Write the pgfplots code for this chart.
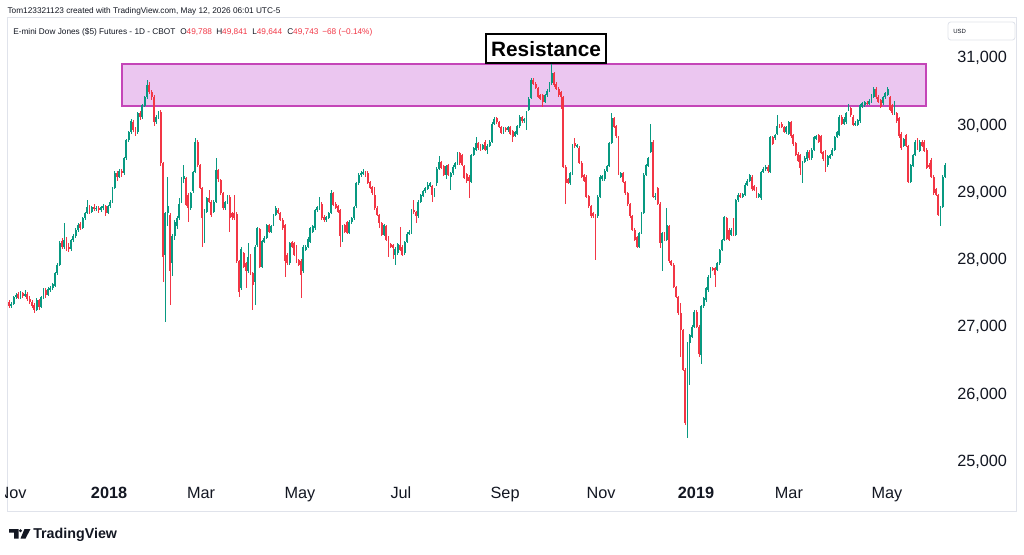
\documentclass[border=0pt]{standalone}
\usepackage{fontspec}
\setmainfont{Liberation Sans}
\usepackage{pgfplots}
\usepackage{pgfplotstable}
\pgfplotsset{compat=1.18}
\definecolor{tvgreen}{HTML}{089981}
\definecolor{tvred}{HTML}{F23645}
\definecolor{tvtext}{HTML}{131722}
\definecolor{tvframe}{HTML}{E0E3EB}
\definecolor{pinkfill}{HTML}{EBC6F0}
\definecolor{pinkedge}{HTML}{C445B8}
\pgfplotstableread{
o h l c
27380 27400 27290 27310
27310 27370 27280 27350
27350 27460 27330 27450
27450 27510 27420 27480
27490 27520 27420 27440
27440 27540 27420 27510
27510 27530 27440 27470
27470 27550 27450 27500
27500 27520 27390 27420
27420 27460 27350 27380
27380 27410 27290 27320
27330 27360 27210 27260
27260 27430 27240 27400
27400 27420 27260 27300
27300 27470 27280 27450
27440 27580 27420 27560
27560 27590 27440 27480
27480 27600 27460 27570
27560 27620 27530 27590
27580 27660 27550 27640
27620 27820 27600 27800
27800 27950 27780 27930
27930 28280 27910 28250
28280 28330 28170 28200
28200 28550 28160 28300
28300 28340 28130 28180
28200 28250 28120 28160
28160 28320 28140 28300
28300 28380 28270 28350
28350 28470 28330 28450
28450 28550 28420 28520
28530 28560 28440 28480
28480 28640 28460 28620
28620 28720 28590 28700
28700 28890 28680 28790
28790 28820 28690 28720
28720 28810 28700 28790
28790 28830 28730 28760
28760 28810 28730 28780
28780 28800 28700 28740
28740 28810 28710 28790
28780 28830 28750 28800
28800 28820 28650 28700
28700 28820 28680 28800
28800 28890 28780 28870
28870 29080 28850 29060
29070 29320 29050 29300
29300 29330 29170 29240
29240 29350 29220 29330
29320 29360 29240 29290
29290 29530 29270 29510
29510 29800 29490 29780
29780 29920 29760 29900
29900 30090 29880 30060
30050 30080 29910 29930
29950 29980 29850 29900
29900 30200 29880 30180
30180 30220 30080 30120
30120 30320 30100 30300
30290 30440 30270 30420
30420 30680 30400 30600
30600 30640 30470 30500
30500 30530 30380 30420
30420 30450 30000 30050
30050 30150 30020 30130
30120 30210 30090 30190
30200 30230 29400 29440
29440 29460 27680 28050
28080 28720 27080 28700
28700 29240 28500 28800
28670 28700 27330 27830
27950 28380 27760 28350
28350 28600 28300 28570
28500 28660 28460 28620
28620 28920 28600 28840
28870 29240 28850 29215
29200 29410 29150 29250
29215 29240 28800 28820
28970 29000 28570 28770
28770 29010 28750 28990
29020 29330 29000 29310
29310 29810 29290 29760
29760 29780 29380 29410
29410 29430 29050 29070
29070 29090 28200 28620
28620 28760 28250 28720
28720 28940 28700 28920
28920 29040 28850 28870
28870 28890 28640 28670
28720 28890 28700 28870
28870 29510 28850 29340
29340 29360 29160 29200
29190 29210 28970 28990
28990 29010 28750 28770
28770 28880 28740 28860
28860 28960 28840 28940
28940 28960 28420 28620
28700 28720 28600 28640
28700 28960 28600 28620
28690 28710 27960 27980
27980 28000 27450 27530
27580 28190 27560 28170
28100 28120 27880 27900
27950 27970 27580 27830
27830 28250 27810 28050
28075 28090 27780 27800
27800 27820 27260 27630
27680 28220 27330 28200
28220 28490 28200 28470
28460 28480 27880 27900
27900 28300 27880 28280
28270 28350 28250 28330
28330 28540 28310 28520
28520 28540 28400 28420
28420 28520 28400 28500
28520 28690 28500 28670
28670 28800 28650 28770
28750 28770 28680 28700
28700 28720 28580 28600
28600 28620 28450 28470
28520 28540 27750 27980
28080 28100 27930 27950
27950 28270 27930 28250
28270 28290 28180 28200
28250 28270 28060 28080
28200 28220 27960 27980
28000 28020 27910 27930
27990 28010 27430 27780
27830 28220 27810 28200
28150 28220 28130 28200
28200 28340 28180 28320
28270 28490 28250 28470
28420 28520 28400 28500
28470 28760 28450 28740
28740 28810 28720 28790
28770 28940 28750 28840
28840 28860 28600 28620
28640 28670 28570 28590
28600 28660 28570 28640
28630 28720 28610 28700
28700 29040 28680 28990
28990 29010 28800 28820
28840 28860 28760 28780
28800 28820 28700 28720
28740 28760 28200 28350
28350 28520 28270 28500
28520 28540 28400 28420
28560 28580 28380 28400
28400 28590 28380 28570
28560 28640 28540 28620
28620 28810 28600 28790
28800 29160 28780 29140
29140 29290 29120 29270
29260 29330 29240 29300
29290 29360 29270 29310
29310 29330 29230 29250
29300 29320 29130 29150
29160 29180 29050 29070
29080 29100 28970 28990
28970 29090 28750 28770
28780 28800 28650 28670
28670 28690 28470 28550
28550 28570 28350 28370
28370 28540 28350 28520
28500 28520 28280 28300
28330 28350 28050 28230
28240 28260 28180 28200
28220 28240 28020 28180
28080 28190 27930 28170
28100 28260 28080 28240
28230 28490 28130 28150
28200 28220 28060 28080
28100 28290 28080 28270
28270 28410 28250 28390
28390 28440 28370 28420
28400 28760 28380 28740
28740 28890 28690 28710
28710 28730 28545 28650
28650 28890 28630 28870
28870 28980 28850 28960
28950 29040 28930 29020
29020 29090 29000 29070
29060 29160 29040 29110
29100 29160 29080 29140
29100 29120 28870 28970
28960 29070 28940 29050
29140 29380 29100 29360
29360 29540 29340 29460
29460 29480 29350 29370
29400 29420 29250 29270
29270 29420 29210 29400
29410 29430 29250 29270
29240 29310 29040 29290
29290 29410 29270 29390
29380 29460 29360 29440
29440 29610 29420 29590
29590 29610 29420 29440
29560 29580 29400 29420
29400 29420 29200 29220
29280 29300 29150 29170
29240 29260 28920 29170
29160 29580 29140 29560
29560 29680 29540 29660
29640 29830 29620 29740
29740 29760 29640 29660
29700 29720 29620 29640
29650 29730 29630 29710
29760 29780 29620 29640
29640 29720 29580 29700
29700 29780 29680 29760
29760 30050 29740 30030
30030 30120 30010 30100
30110 30130 30030 30050
30050 30070 29960 29980
29980 30000 29870 29890
29890 29980 29870 29960
29960 29980 29910 29930
29930 30000 29910 29980
29980 30000 29860 29880
29920 29940 29760 29830
29850 29920 29830 29900
29880 30010 29860 29990
29990 30150 29970 30130
30120 30140 30040 30060
30060 30110 30040 30090
30040 30220 29930 30200
30230 30420 30210 30400
30410 30700 30390 30680
30680 30700 30600 30620
30620 30640 30540 30560
30560 30580 30410 30430
30450 30470 30380 30400
30450 30470 30280 30350
30350 30470 30330 30450
30450 30540 30430 30520
30520 30650 30500 30630
30630 30930 30610 30780
30780 30800 30580 30600
30620 30640 30530 30550
30550 30570 30430 30450
30500 30520 30250 30420
30420 30440 29370 29390
29390 29410 28840 29140
29200 29220 29130 29150
29140 29310 29120 29290
29290 29730 29270 29710
29740 29810 29670 29690
29680 29730 29660 29710
29670 29690 29430 29450
29450 29470 29220 29240
29260 29280 29160 29180
29240 29260 28920 28940
28950 28970 28780 28800
28800 28820 28630 28650
28700 28720 28630 28650
28670 28690 28000 28300
28650 28960 28630 28940
28940 29260 28920 29240
29200 29270 29180 29250
29200 29350 29180 29330
29330 29420 29310 29400
29400 29760 29380 29740
29740 30180 29720 30110
30110 30130 29960 29980
29990 30010 29820 29840
29830 29850 29270 29290
29240 29310 29220 29290
29290 29310 29140 29160
29160 29180 28970 28990
28990 29010 28810 28830
28830 28850 28630 28650
28650 28670 28430 28450
28450 28470 28280 28300
28340 28360 28180 28200
28200 28420 28180 28400
28400 28720 28380 28700
28700 29290 28680 29270
29270 29430 29250 29410
29400 29530 29380 29510
29610 30030 29590 29760
29760 29780 28920 28940
28940 28990 28900 28950
29070 29090 28820 28840
28840 28860 28175 28250
28250 28420 27830 28400
28400 28420 28280 28300
28300 28770 28280 28520
28500 28520 27960 27980
27980 28000 27910 27930
27930 27950 27580 27600
27600 27620 27430 27450
27450 27470 27190 27210
27210 27360 26560 26960
26960 26980 26350 26370
26370 26390 25550 25570
25620 26780 25350 26760
26760 26900 26140 26880
26860 27030 26840 27010
27010 27250 26990 27230
27230 27250 26990 27010
27010 27030 26560 26610
26590 27330 26460 27310
27310 27450 27290 27430
27400 27600 27380 27580
27550 27770 27530 27750
27750 27900 27730 27880
27880 27900 27830 27850
27880 27900 27600 27780
27850 27970 27830 27950
27950 28170 27930 28150
28150 28320 28130 28300
28300 28660 28280 28640
28620 28640 28300 28320
28450 28470 28280 28300
28370 28470 28350 28450
28600 28620 28350 28370
28370 28910 28350 28890
28890 28990 28870 28970
28970 28990 28920 28940
28940 29000 28920 28980
28970 29140 28950 29120
29120 29200 29100 29180
29180 29280 29160 29260
29240 29260 29030 29050
29100 29120 29020 29040
29060 29080 28920 28940
28940 29000 28920 28980
28920 29330 28900 29310
29310 29380 29290 29360
29350 29410 29330 29390
29390 29410 29300 29320
29310 29850 29290 29830
29830 29850 29710 29730
29810 29880 29790 29860
29880 30160 29860 30000
30000 30030 29970 29990
30030 30050 29960 29980
29980 30000 29890 29910
29900 30000 29880 29980
29880 30070 29860 30050
30050 30070 29820 29840
29860 29880 29700 29720
29740 29760 29540 29560
29580 29600 29460 29480
29560 29580 29270 29370
29370 29480 29140 29460
29460 29540 29440 29520
29500 29630 29480 29610
29610 29630 29490 29510
29510 29660 29490 29640
29640 29850 29620 29830
29800 29860 29780 29840
29860 29880 29740 29760
29840 29860 29570 29590
29600 29620 29480 29500
29610 29630 29310 29410
29410 29560 29390 29540
29520 29580 29500 29560
29560 29660 29540 29640
29640 29850 29620 29830
29830 29920 29810 29900
29860 30150 29840 30130
30130 30150 30010 30030
30030 30120 30010 30100
30050 30200 30030 30180
30230 30320 30210 30300
30260 30280 30130 30150
30130 30150 29990 30010
30010 30060 29990 30040
30010 30100 29990 30080
30060 30320 30040 30300
30280 30350 30260 30330
30300 30370 30280 30350
30340 30360 30300 30320
30320 30390 30300 30370
30350 30470 30330 30450
30430 30580 30410 30550
30550 30570 30400 30420
30430 30450 30330 30350
30380 30400 30260 30280
30330 30440 30310 30420
30420 30500 30400 30480
30460 30580 30440 30550
30420 30440 30210 30230
30300 30320 30160 30180
30180 30370 30160 30350
30180 30200 30040 30060
30110 30130 29820 29840
29880 29900 29640 29660
29700 29820 29680 29800
29860 29880 29680 29700
29690 29710 29140 29160
29160 29430 29140 29410
29400 29580 29380 29560
29560 29780 29540 29760
29790 29810 29640 29660
29620 29780 29600 29760
29760 29780 29680 29700
29760 29780 29600 29620
29640 29660 29350 29370
29420 29440 29360 29380
29490 29510 29220 29240
29240 29260 28970 28990
29050 29070 28950 28970
28960 28980 28650 28670
28620 28810 28500 28790
28790 29260 28770 29240
29240 29450 29220 29410
}\candles
\begin{document}
\begin{tikzpicture}
\path[use as bounding box, fill=white] (0,0) rectangle (768pt,415.5pt);
% chart frame
\draw[tvframe, line width=0.75pt] (5.25pt,32.25pt) rectangle (762pt,402pt);
% header
\node[anchor=base west, inner sep=0pt, text=tvtext, font=\fontsize{6.2}{7}\selectfont] at (5.5pt,405.2pt) {Tom123321123 created with TradingView.com, May 12, 2026 06:01 UTC-5};
\begin{scope}[every node/.style={anchor=base west, inner sep=0pt, text=tvtext, font=\fontsize{6.2}{7}\selectfont}]
\node at (9.75pt,389.5pt) {E-mini Dow Jones (\$5) Futures - 1D - CBOT};
\node at (135pt,389.5pt) {O\textcolor{tvred}{49,788}};
\node at (162pt,389.5pt) {H\textcolor{tvred}{49,841}};
\node at (189pt,389.5pt) {L\textcolor{tvred}{49,644}};
\node at (215.25pt,389.5pt) {C\textcolor{tvred}{49,743}};
\node at (241.5pt,389.5pt) {\textcolor{tvred}{−68 (−0.14\%)}};
\end{scope}
% USD box
\draw[tvframe, line width=0.6pt, rounded corners=2pt] (711pt,385.5pt) rectangle (761.25pt,399pt);
\node[anchor=west, inner sep=0pt, text=tvtext, font=\fontsize{4.5}{5}\selectfont] at (714.75pt,392.25pt) {USD};
\begin{axis}[
  at={(5.25pt,55.5pt)}, anchor=south west,
  scale only axis, width=705pt, height=346.5pt,
  xmin=-0.87, xmax=407.83, ymin=24729, ymax=31599,
  axis line style={draw=none},
  major tick length=0pt,
  scaled y ticks=false, scaled x ticks=false,
  xtick={1.3,43.5,83.5,126.5,170.4,215.7,257.4,298.7,339.1,381.7},
  xticklabels={Nov,\textbf{2018},Mar,May,Jul,Sep,Nov,\textbf{2019},Mar,May},
  xticklabel style={font=\fontsize{12.2}{14}\selectfont, text=tvtext, anchor=base, inner sep=0pt, yshift=-13.5pt},
  ytick={25000,26000,27000,28000,29000,30000,31000},
  yticklabels={{25,000},{26,000},{27,000},{28,000},{29,000},{30,000},{31,000}},
  yticklabel pos=right,
  yticklabel style={font=\fontsize{12.2}{14}\selectfont, text=tvtext, anchor=west, inner sep=0pt, xshift=7.5pt},
  clip=false,
]
% resistance zone
\addplot[draw=pinkedge, line width=1.5pt, fill=pinkfill, forget plot]
  coordinates {(49.1,30283) (398.7,30283) (398.7,30908) (49.1,30908)} -- cycle;
% up candles: wicks then bodies
\addplot[draw=none, mark=none, forget plot,
  error bars/.cd, y dir=both, y explicit, error mark=none,
  error bar style={line width=0.6pt, color=tvgreen}]
  table[x expr=\coordindex,
        y expr={\thisrow{c}>=\thisrow{o} ? 0.5*(\thisrow{h}+\thisrow{l}) : nan},
        y error expr={0.5*(\thisrow{h}-\thisrow{l})}] {\candles};
\addplot[draw=none, mark=none, forget plot,
  error bars/.cd, y dir=both, y explicit, error mark=none,
  error bar style={line width=1.45pt, color=tvgreen}]
  table[x expr=\coordindex,
        y expr={\thisrow{c}>=\thisrow{o} ? 0.5*(\thisrow{o}+\thisrow{c}) : nan},
        y error expr={max(0.5*abs(\thisrow{c}-\thisrow{o}),7)}] {\candles};
% down candles
\addplot[draw=none, mark=none, forget plot,
  error bars/.cd, y dir=both, y explicit, error mark=none,
  error bar style={line width=0.6pt, color=tvred}]
  table[x expr=\coordindex,
        y expr={\thisrow{c}<\thisrow{o} ? 0.5*(\thisrow{h}+\thisrow{l}) : nan},
        y error expr={0.5*(\thisrow{h}-\thisrow{l})}] {\candles};
\addplot[draw=none, mark=none, forget plot,
  error bars/.cd, y dir=both, y explicit, error mark=none,
  error bar style={line width=1.45pt, color=tvred}]
  table[x expr=\coordindex,
        y expr={\thisrow{c}<\thisrow{o} ? 0.5*(\thisrow{o}+\thisrow{c}) : nan},
        y error expr={max(0.5*abs(\thisrow{c}-\thisrow{o}),7)}] {\candles};
\node[draw=black, line width=1.5pt, fill=white, anchor=south, minimum width=90pt, minimum height=22.2pt, inner sep=0pt, font=\bfseries\fontsize{15.6}{18}\selectfont] at (axis cs:233.5,30908) {Resistance};
\end{axis}
% clip the partial left date label
\fill[white] (0,36pt) rectangle (3.9pt,54pt);
% footer logo
\fill[tvtext] (6.75pt,18.75pt) -- (13.875pt,18.75pt) -- (13.875pt,11.625pt) -- (10.5pt,11.625pt) -- (10.5pt,16.125pt) -- (6.75pt,16.125pt) -- cycle;
\fill[tvtext] (15.375pt,17.4pt) circle (1.2pt);
\fill[tvtext] (18.375pt,18.75pt) -- (22.875pt,18.75pt) -- (19.125pt,11.625pt) -- (15.375pt,11.625pt) -- cycle;
\node[anchor=base west, inner sep=0pt, text=tvtext, font=\bfseries\fontsize{10.7}{12}\selectfont] at (24.75pt,11.6pt) {TradingView};
\end{tikzpicture}
\end{document}
